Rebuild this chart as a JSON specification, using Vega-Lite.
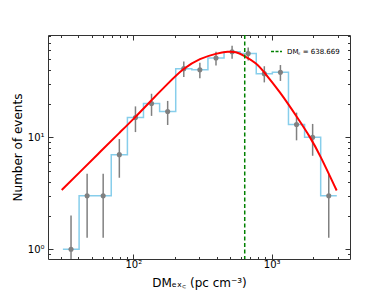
{
  "$schema": "https://vega.github.io/schema/vega-lite/v6.json",
  "width": 302,
  "height": 224,
  "autosize": {"type": "none"},
  "padding": {"left": 48, "top": 35, "right": 39, "bottom": 33},
  "config": {
    "font": "DejaVu Sans",
    "view": {"stroke": "#333333", "strokeWidth": 1},
    "axis": {"grid": false, "domain": false, "tickColor": "#333333", "labelColor": "#000000", "titleColor": "#000000", "labelFont": "DejaVu Sans", "titleFont": "DejaVu Sans", "titleFontWeight": "normal"}
  },
  "datasets": {
    "edges": [
      {"edge": 31.0, "n": 1}, {"edge": 40.6, "n": 3}, {"edge": 53.0, "n": 3}, {"edge": 69.3, "n": 7},
      {"edge": 90.7, "n": 15}, {"edge": 118.5, "n": 20}, {"edge": 155.0, "n": 17}, {"edge": 202.6, "n": 41},
      {"edge": 264.9, "n": 40}, {"edge": 346.3, "n": 51}, {"edge": 452.8, "n": 58}, {"edge": 591.9, "n": 56},
      {"edge": 773.8, "n": 37}, {"edge": 1011.6, "n": 38}, {"edge": 1322.5, "n": 13}, {"edge": 1729, "n": 10},
      {"edge": 2260, "n": 3}, {"edge": 2955, "n": 3}
    ],
    "bins": [
      {"dm": 35.5, "n": 1, "lo": 0.01, "hi": 2},
      {"dm": 46.4, "n": 3, "lo": 1.268, "hi": 4.732},
      {"dm": 60.6, "n": 3, "lo": 1.268, "hi": 4.732},
      {"dm": 79.3, "n": 7, "lo": 4.354, "hi": 9.646},
      {"dm": 103.7, "n": 15, "lo": 11.127, "hi": 18.873},
      {"dm": 135.5, "n": 20, "lo": 15.528, "hi": 24.472},
      {"dm": 177.2, "n": 17, "lo": 12.877, "hi": 21.123},
      {"dm": 231.7, "n": 41, "lo": 34.597, "hi": 47.403},
      {"dm": 302.8, "n": 40, "lo": 33.675, "hi": 46.325},
      {"dm": 396.0, "n": 51, "lo": 43.859, "hi": 58.141},
      {"dm": 517.6, "n": 58, "lo": 50.384, "hi": 65.616},
      {"dm": 676.8, "n": 56, "lo": 48.517, "hi": 63.483},
      {"dm": 884.8, "n": 37, "lo": 30.917, "hi": 43.083},
      {"dm": 1156.8, "n": 38, "lo": 31.836, "hi": 44.164},
      {"dm": 1512.3, "n": 13, "lo": 9.394, "hi": 16.606},
      {"dm": 1977, "n": 10, "lo": 6.838, "hi": 13.162},
      {"dm": 2585, "n": 3, "lo": 1.268, "hi": 4.732}
    ],
    "fit": [
      {"dm": 30.4, "f": 3.384}, {"dm": 41.2, "f": 4.90}, {"dm": 57.5, "f": 7.39}, {"dm": 80.1, "f": 11.08},
      {"dm": 102.9, "f": 15.02}, {"dm": 132.1, "f": 20.79}, {"dm": 175.2, "f": 29.6}, {"dm": 229.8, "f": 41.3},
      {"dm": 303.3, "f": 50.7}, {"dm": 400.5, "f": 56.2}, {"dm": 483.4, "f": 58.35}, {"dm": 552.1, "f": 58.0},
      {"dm": 620.3, "f": 54.3}, {"dm": 779, "f": 45.8}, {"dm": 880, "f": 38.3}, {"dm": 1148, "f": 25.4},
      {"dm": 1515, "f": 15.34}, {"dm": 1891, "f": 10.12}, {"dm": 2234, "f": 6.95}, {"dm": 2949, "f": 3.35}
    ],
    "dmc": [{"dmc": 638.669, "label": "DM꜀ = 638.669"}]
  },
  "resolve": {"axis": {"x": "independent", "y": "independent"}},
  "layer": [
    {
      "data": {"name": "edges"},
      "mark": {"type": "line", "interpolate": "step-after", "color": "#87CEEB", "strokeWidth": 1.5},
      "encoding": {
        "x": {"field": "edge", "type": "quantitative",
          "scale": {"type": "log", "domain": [24.2, 3681], "nice": false},
          "axis": {"orient": "bottom", "title": "DMₑₓ꜀ (pc cm⁻³)", "titleFontSize": 12, "titlePadding": 6,
            "values": [30, 40, 50, 60, 70, 80, 90, 100, 200, 300, 400, 500, 600, 700, 800, 900, 1000, 2000, 3000],
            "labelExpr": "datum.value == 100 ? '10²' : datum.value == 1000 ? '10³' : ''",
            "labelFontSize": 10, "labelPadding": 5, "labelFlush": false, "labelOverlap": false,
            "tickSize": {"condition": {"test": "datum.value == 100 || datum.value == 1000", "value": -5}, "value": -2.5}}},
        "y": {"field": "n", "type": "quantitative",
          "scale": {"type": "log", "domain": [0.819, 81.9], "nice": false},
          "axis": {"orient": "left", "title": "Number of events", "titleFontSize": 12, "titlePadding": 3,
            "values": [0.9, 1, 2, 3, 4, 5, 6, 7, 8, 9, 10, 20, 30, 40, 50, 60, 70, 80],
            "labelExpr": "datum.value == 1 ? '10⁰' : datum.value == 10 ? '10¹' : ''",
            "labelFontSize": 10, "labelPadding": 9, "labelFlush": false, "labelOverlap": false,
            "tickSize": {"condition": {"test": "datum.value == 1 || datum.value == 10", "value": -5}, "value": -2.5}}}
      }
    },
    {
      "data": {"name": "bins"},
      "mark": {"type": "rule", "color": "#808080", "strokeWidth": 1.5, "clip": true},
      "encoding": {
        "x": {"field": "dm", "type": "quantitative",
          "axis": {"orient": "top", "title": null, "labels": false,
            "values": [30, 40, 50, 60, 70, 80, 90, 100, 200, 300, 400, 500, 600, 700, 800, 900, 1000, 2000, 3000],
            "tickSize": {"condition": {"test": "datum.value == 100 || datum.value == 1000", "value": -5}, "value": -2.5}}},
        "y": {"field": "lo", "type": "quantitative",
          "axis": {"orient": "right", "title": null, "labels": false,
            "values": [0.9, 1, 2, 3, 4, 5, 6, 7, 8, 9, 10, 20, 30, 40, 50, 60, 70, 80],
            "tickSize": {"condition": {"test": "datum.value == 1 || datum.value == 10", "value": -5}, "value": -2.5}}},
        "y2": {"field": "hi"}
      }
    },
    {
      "data": {"name": "bins"},
      "mark": {"type": "point", "filled": true, "color": "#808080", "opacity": 1, "size": 26},
      "encoding": {
        "x": {"field": "dm", "type": "quantitative", "axis": null},
        "y": {"field": "n", "type": "quantitative", "axis": null}
      }
    },
    {
      "data": {"name": "fit"},
      "mark": {"type": "line", "interpolate": "basis", "color": "#FF0000", "strokeWidth": 2},
      "encoding": {
        "x": {"field": "dm", "type": "quantitative", "axis": null},
        "y": {"field": "f", "type": "quantitative", "axis": null}
      }
    },
    {
      "data": {"name": "dmc"},
      "mark": {"type": "rule", "strokeWidth": 1.5, "strokeDash": [4, 2.5]},
      "encoding": {
        "x": {"field": "dmc", "type": "quantitative", "axis": null},
        "color": {"field": "label", "type": "nominal", "scale": {"range": ["#008000"]},
          "legend": {"title": null, "orient": "top-right", "offset": 10, "padding": 0,
            "symbolType": "stroke", "symbolStrokeWidth": 1.5, "symbolDash": [3, 1.5], "symbolSize": 120,
            "labelFontSize": 7, "labelFont": "DejaVu Sans", "labelOffset": 4}}
      }
    }
  ]
}
